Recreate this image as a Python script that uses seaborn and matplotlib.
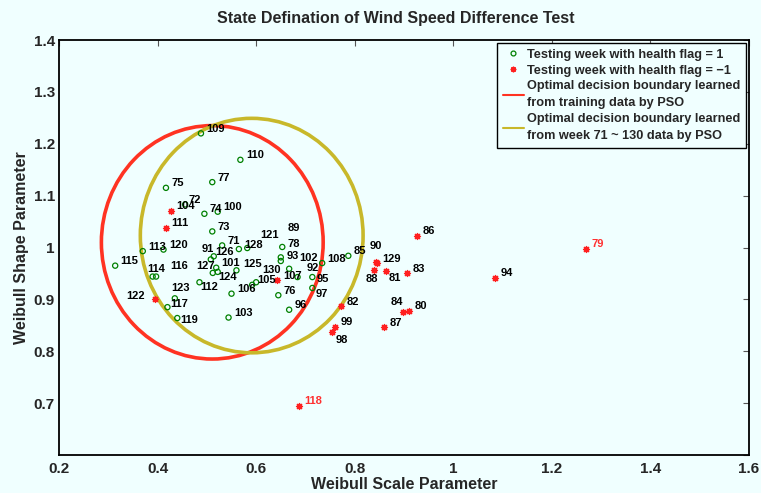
import numpy as np
import pandas as pd
import matplotlib
matplotlib.use("Agg")
import matplotlib.pyplot as plt
import seaborn as sns
from matplotlib.patches import Circle
from matplotlib.lines import Line2D

# ---------------- data ----------------
weeks = list(range(71, 131))
scale = [0.531, 0.456, 0.511, 0.495, 0.417, 0.645, 0.511, 0.653, 1.269, 0.910,
         0.863, 0.772, 0.907, 0.897, 0.787, 0.926, 0.860, 0.839, 0.650, 0.843,
         0.508, 0.684, 0.650, 1.085, 0.714, 0.667, 0.714, 0.753, 0.761, 0.522,
         0.519, 0.667, 0.544, 0.427, 0.592, 0.550, 0.643, 0.734, 0.488, 0.568,
         0.417, 0.485, 0.370, 0.390, 0.314, 0.397, 0.420, 0.687, 0.440, 0.412,
         0.582, 0.394, 0.435, 0.522, 0.560, 0.514, 0.512, 0.565, 0.845, 0.600]
shape = [1.004, 1.083, 1.031, 1.065, 1.115, 0.908, 1.126, 1.001, 0.998, 0.878,
         0.954, 0.887, 0.950, 0.875, 0.984, 1.023, 0.846, 0.957, 0.981, 0.972,
         0.977, 0.943, 0.974, 0.942, 0.943, 0.880, 0.922, 0.837, 0.847, 1.069,
         0.961, 0.959, 0.865, 1.071, 0.928, 0.911, 0.937, 0.970, 1.220, 1.169,
         1.038, 0.933, 0.993, 0.944, 0.965, 0.944, 0.885, 0.695, 0.864, 0.996,
         0.999, 0.900, 0.902, 0.953, 0.956, 0.983, 0.951, 0.997, 0.970, 0.933]
flag = [1, 1, 1, 1, 1, 1, 1, 1, -1, -1,
        -1, -1, -1, -1, 1, -1, -1, -1, 1, -1,
        1, 1, 1, -1, 1, 1, 1, -1, -1, 1,
        1, 1, 1, -1, 1, 1, -1, 1, 1, 1,
        -1, 1, 1, 1, 1, 1, 1, -1, 1, 1,
        1, -1, 1, 1, 1, 1, 1, 1, -1, 1]
red_labels = [79, 118]

# decision boundaries (center x, center y, radius)
train_boundary = (0.511, 1.010, 0.225)
week_boundary = (0.591, 1.023, 0.226)

legend_labels = ["Testing week with health flag = 1",
                 "Testing week with health flag = \u22121",
                 "Optimal decision boundary learned\nfrom training data by PSO",
                 "Optimal decision boundary learned\nfrom week 71 ~ 130 data by PSO"]
title = "State Defination of Wind Speed Difference Test"
xlabel = "Weibull Scale Parameter"
ylabel = "Weibull Shape Parameter"
xticks = [0.2, 0.4, 0.6, 0.8, 1.0, 1.2, 1.4, 1.6]
xticklabels = ["0.2", "0.4", "0.6", "0.8", "1", "1.2", "1.4", "1.6"]
yticks = [0.6, 0.7, 0.8, 0.9, 1.0, 1.1, 1.2, 1.3, 1.4]
yticklabels = ["", "0.7", "0.8", "0.9", "1", "1.1", "1.2", "1.3", "1.4"]

df = pd.DataFrame({"week": weeks, "scale": scale, "shape": shape, "flag": flag})

# label offsets in pixels (layout only)
default_off = (5.5, 4.5)
label_off = {72: (3.3, 4.3), 78: (5, 3), 81: (2.6, -6.7), 84: (-12.3, 10.3),
             88: (-8, -9.3), 89: (6.6, 29), 90: (-6.7, 15.7), 91: (-9.3, 10),
             92: (8.7, 9), 95: (4.4, -1.5), 97: (3.2, -6), 98: (4, -8.4),
             102: (9.7, 11), 112: (0.7, -4.4), 114: (-5.4, 8), 116: (14, 11),
             117: (2.7, 3), 119: (3.4, -2.3), 121: (12.7, 13.3), 122: (-28, 3.3),
             123: (-3.3, 10.6), 124: (0.6, -5), 125: (7, 6.3), 126: (1.3, 4),
             127: (-17, 7), 130: (6.4, 12.3)}

# ---------------- style ----------------
sns.set_style("white")
plt.rcParams["font.family"] = ["Liberation Sans", "DejaVu Sans"]
plt.rcParams["font.weight"] = "bold"

BG = "#F0FFFF"
GREEN = "#008000"
RED = "#FF2020"
RED_LINE = "#FF3322"
YELLOW = "#C8B82A"

fig = plt.figure(figsize=(7.61, 4.93), dpi=100, facecolor=BG)
ax = fig.add_axes([59 / 761, 1 - 455 / 493, 690 / 761, 415 / 493])
ax.set_facecolor(BG)

# boundaries
for (cx, cy, r), col in [(train_boundary, RED_LINE), (week_boundary, YELLOW)]:
    ax.add_patch(Circle((cx, cy), r, fill=False, edgecolor=col, lw=2.6, zorder=2))

# points
good = df[df["flag"] == 1]
bad = df[df["flag"] == -1]
sns.scatterplot(data=good, x="scale", y="shape", ax=ax, marker="o",
                facecolors="none", edgecolor=GREEN, linewidth=0.9, s=14, zorder=3)
sns.scatterplot(data=bad, x="scale", y="shape", ax=ax, marker=(8, 2, 0),
                color=RED, linewidth=1.0, s=18, zorder=3)

for w, xv, yv in zip(df["week"], df["scale"], df["shape"]):
    dx, dy = label_off.get(w, default_off)
    ax.annotate(str(w), (xv, yv), xytext=(dx, dy), textcoords="offset pixels",
                ha="left", va="center", fontsize=8, fontweight="bold",
                color=("#FF3030" if w in red_labels else "black"), zorder=4)

ax.set_xlim(0.2, 1.6)
ax.set_ylim(0.6, 1.4)
ax.set_xticks(xticks)
ax.set_xticklabels(xticklabels)
ax.set_yticks(yticks)
ax.set_yticklabels(yticklabels)
ax.tick_params(direction="in", length=4, width=0.8, labelsize=11, top=True,
               right=True, color="#555555", pad=3)
ax.tick_params(axis="x", pad=5)
for lab in ax.get_xticklabels() + ax.get_yticklabels():
    lab.set_fontweight("bold")
for sp in ax.spines.values():
    sp.set_linewidth(1.3)
    sp.set_color("black")

ax.set_title(title, fontsize=11.5, fontweight="bold", pad=12, x=0.488)
ax.set_xlabel(xlabel, fontsize=11.5, fontweight="bold", labelpad=1)
ax.set_ylabel(ylabel, fontsize=11.5, fontweight="bold", labelpad=3)

handles = [Line2D([], [], ls="none", marker="o", mfc="none", mec=GREEN, ms=3.5, mew=0.9),
           Line2D([], [], ls="none", marker=(8, 2, 0), color=RED, ms=4, mew=1.0),
           Line2D([], [], color=RED_LINE, lw=1.5),
           Line2D([], [], color=YELLOW, lw=1.5)]
leg = fig.legend(handles, legend_labels, loc="upper right",
                 bbox_to_anchor=(746 / 761, 1 - 43 / 493), bbox_transform=fig.transFigure,
                 prop={"size": 9.2, "weight": "bold"}, frameon=True, fancybox=False,
                 edgecolor="black", facecolor=BG, framealpha=1, handlelength=1.7,
                 handletextpad=0.2, labelspacing=0.3, borderpad=0.45, borderaxespad=0)
for t in leg.get_texts():
    t.set_linespacing(1.55)
leg.get_frame().set_linewidth(1.0)

fig.savefig("out.png", dpi=100, facecolor=BG)
